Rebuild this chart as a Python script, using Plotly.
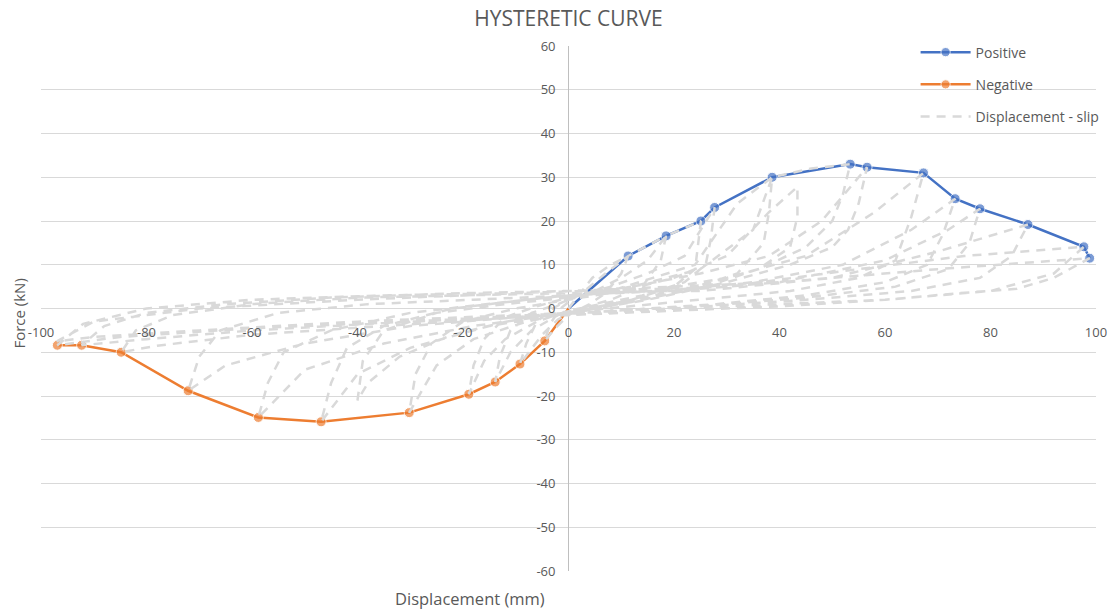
import plotly.graph_objects as go

# ---- data ----
pos_disp = [0, 11.3, 18.5, 25.1, 27.7, 38.6, 53.4, 56.6, 67.3, 73.3, 78.0, 87.1, 97.7, 98.8]
pos_force = [0, 12.0, 16.6, 20.0, 23.1, 30.0, 33.0, 32.3, 31.0, 25.1, 22.8, 19.2, 14.1, 11.5]

neg_disp = [0, -4.5, -9.2, -13.9, -18.9, -30.2, -46.9, -58.8, -72.1, -84.8, -92.3, -96.9]
neg_force = [0, -7.4, -12.7, -16.8, -19.6, -23.8, -25.9, -24.9, -18.8, -10.0, -8.4, -8.4]

# hysteresis loops (displacement, force), one list per cycle
cycle_1 = [(0, 0), (2, 3), (4.5, 7), (8, 10), (11.3, 12), (10, 8), (7, 3.5), (4, 1), (0, -1.5),
           (-2.5, -4.5), (-4.5, -7.4), (-3.5, -3.5), (-1.5, 0), (0, 1.5)]
cycle_2 = [(3, 4), (7, 8), (11.3, 12), (18.5, 16.6), (17.5, 11), (14, 5), (8, 2), (2, 0), (-2, -2.5),
           (-5, -6), (-9.2, -12.7), (-8, -8), (-6, -3), (-3, 0), (0, 2)]
cycle_3 = [(5, 4), (10, 7), (15, 11), (18.5, 16.6), (25.1, 20), (24.5, 14), (24, 9), (20, 5), (12, 2),
           (4, 0), (-2, -1.5), (-7, -5), (-11, -10), (-13.9, -16.8), (-13, -11), (-11, -5), (-7, -1),
           (-2, 1), (2, 3)]
cycle_4 = [(8, 5), (15, 8), (22, 12), (25.1, 18), (27.7, 23.1), (27, 16), (26, 10), (22, 6), (14, 3),
           (6, 1), (0, -0.5), (-6, -3), (-12, -7), (-16, -12), (-18.9, -19.6), (-18, -13), (-16, -7),
           (-12, -2), (-6, 0.5), (0, 2.5)]
cycle_5 = [(8, 4), (16, 7), (24, 10), (28, 17), (32, 24), (38.6, 30), (38, 22), (37, 15), (32, 8),
           (22, 4), (12, 1.5), (2, -0.5), (-8, -3), (-18, -7), (-25, -13), (-30.2, -23.8), (-29, -15),
           (-26, -8), (-20, -3), (-10, 0), (0, 2)]
cycle_6 = [(10, 4), (20, 7), (30, 12), (38, 22), (43.4, 27.8), (43.4, 21), (42, 14), (36, 9), (26, 5),
           (14, 2), (3, 0), (-10, -2.5), (-22, -6), (-32, -11), (-38, -17), (-40, -21), (-39, -12),
           (-35, -5), (-25, -1), (-12, 1), (0, 2.5)]
cycle_7 = [(12, 5), (25, 9), (35, 18), (38.6, 30), (46, 32), (53.4, 33), (52, 26), (50, 20), (45, 14),
           (36, 9), (24, 5), (10, 1.5), (0, -1), (-15, -4), (-30, -9), (-40, -15), (-46.9, -25.9),
           (-45, -17), (-42, -9), (-35, -4), (-22, 0), (-8, 2), (0, 3)]
cycle_8 = [(12, 5), (25, 8), (38, 12), (48, 20), (56.6, 32.3), (55, 24), (53, 18), (50, 14), (42, 10),
           (30, 6), (15, 2), (0, -1), (-18, -4), (-35, -8), (-50, -14), (-58.8, -24.9), (-57, -17),
           (-54, -10), (-45, -5), (-30, -1), (-12, 1.5), (0, 3)]
cycle_9 = [(15, 4), (30, 7), (45, 12), (58, 22), (67.3, 31), (65, 21), (62, 11), (55, 7), (42, 4),
           (25, 2), (8, 0), (-10, -2), (-30, -4), (-50, -8), (-65, -13), (-72.1, -18.8), (-70, -11),
           (-66, -5), (-55, -1), (-38, 1), (-18, 2), (0, 3)]
cycle_10 = [(18, 4), (35, 6), (52, 10), (65, 18), (73.3, 25.1), (71, 17), (68, 10), (60, 6), (45, 3),
            (28, 1), (10, -0.5), (-10, -2), (-35, -4), (-60, -6), (-78, -8.5), (-84.8, -10), (-82, -5),
            (-75, -1.5), (-60, 1), (-40, 2.5), (-20, 3), (0, 3.5)]
cycle_11 = [(20, 4), (40, 6), (60, 11), (72, 18), (78, 22.8), (76, 15), (72, 9), (62, 5), (45, 2.5),
            (25, 0.5), (0, -1), (-30, -3), (-60, -5), (-80, -7), (-92.3, -8.4), (-88, -4), (-80, -1),
            (-65, 1), (-45, 2.5), (-20, 3.5), (0, 4)]
cycle_12 = [(25, 4), (50, 7), (70, 13), (87.1, 19.2), (84, 12), (78, 7), (65, 4), (45, 2), (20, 0),
            (0, -1.5), (-30, -3), (-60, -4.5), (-85, -6.5), (-96.9, -8.4), (-92, -3.5), (-80, 0),
            (-60, 2), (-35, 3), (-10, 3.5), (5, 4)]
cycle_13 = [(30, 5), (55, 9), (75, 12), (97.7, 14.1), (92, 8), (80, 4), (60, 2), (30, 0.5), (0, -1),
            (-40, -3), (-70, -5), (-90, -6.5), (-97, -7.5), (-90, -3), (-70, 0), (-40, 2), (0, 4),
            (40, 6), (70, 9), (98.8, 11.5), (92, 7), (85, 4.5), (74, 3.5), (60, 2), (40, 0.5),
            (20, -0.5), (0, -1.5)]

x_tick_vals = [-100, -80, -60, -40, -20, 0, 20, 40, 60, 80, 100]
x_tick_text = ["-100", "-80", "-60", "-40", "-20", "0", "20", "40", "60", "80", "100"]
y_tick_vals = [-60, -50, -40, -30, -20, -10, 0, 10, 20, 30, 40, 50, 60]
y_tick_text = ["-60", "-50", "-40", "-30", "-20", "-10", "0", "10", "20", "30", "40", "50", "60"]

cycles = [cycle_1, cycle_2, cycle_3, cycle_4, cycle_5, cycle_6, cycle_7, cycle_8, cycle_9,
          cycle_10, cycle_11, cycle_12, cycle_13]
slip_x = [p[0] for c in cycles for p in c]
slip_y = [p[1] for c in cycles for p in c]

FONT = "Open Sans"
TXT = "#595959"
MS = 10


def sizes(xs):
    # no visible marker at the origin point
    return [0 if x == 0 else MS for x in xs]


fig = go.Figure()
fig.add_trace(go.Scatter(x=pos_disp, y=pos_force, name="Positive", mode="lines+markers",
                         line=dict(color="#4472C4", width=2.5),
                         marker=dict(color="#4472C4", size=sizes(pos_disp)), legendgroup="a"))
fig.add_trace(go.Scatter(x=neg_disp, y=neg_force, name="Negative", mode="lines+markers",
                         line=dict(color="#ED7D31", width=2.5),
                         marker=dict(color="#ED7D31", size=sizes(neg_disp)), legendgroup="b"))
fig.add_trace(go.Scatter(x=slip_x, y=slip_y, name="Displacement - slip", mode="lines",
                         line=dict(color="#D9D9D9", width=2.5, dash="9px,7px"), legendgroup="c"))

fig.update_layout(
    width=1119, height=613,
    margin=dict(l=41, r=20, t=46, b=42),
    paper_bgcolor="white", plot_bgcolor="white",
    font=dict(family=FONT, color=TXT, size=13),
    title=dict(text="HYSTERETIC CURVE", x=0.5, xref="paper", xanchor="center",
               y=0.97, yref="container", yanchor="middle",
               font=dict(family=FONT, size=21, color=TXT)),
    showlegend=True,
    legend=dict(x=0.829, y=1.018, xanchor="left", yanchor="top", bgcolor="rgba(0,0,0,0)",
                font=dict(family=FONT, size=14, color=TXT), itemwidth=50,
                tracegroupgap=11, traceorder="grouped"),
    xaxis=dict(range=[-100, 100], tickvals=x_tick_vals, ticktext=x_tick_text,
               showgrid=False, zeroline=True, zerolinecolor="#BFBFBF", zerolinewidth=1,
               anchor="free", position=0.5, ticks="", ticklabelstandoff=14,
               tickfont=dict(family=FONT, size=13, color=TXT), showline=False),
    yaxis=dict(range=[-60, 60], tickvals=y_tick_vals, ticktext=y_tick_text,
               showgrid=True, gridcolor="#D9D9D9", gridwidth=1,
               zeroline=True, zerolinecolor="#D9D9D9", zerolinewidth=1,
               anchor="free", position=0.5, ticks="", ticklabelstandoff=13,
               tickfont=dict(family=FONT, size=13, color=TXT), showline=False),
    annotations=[
        dict(text="Force (kN)", x=-0.021, y=0.49, xref="paper", yref="paper", textangle=-90,
             showarrow=False, font=dict(family=FONT, size=15, color=TXT),
             xanchor="center", yanchor="middle"),
        dict(text="Displacement (mm)", x=(471 - 41) / 1058, y=-0.052, xref="paper", yref="paper",
             showarrow=False, font=dict(family=FONT, size=16.5, color=TXT),
             xanchor="center", yanchor="middle"),
    ],
)

fig.write_html("out.html")
